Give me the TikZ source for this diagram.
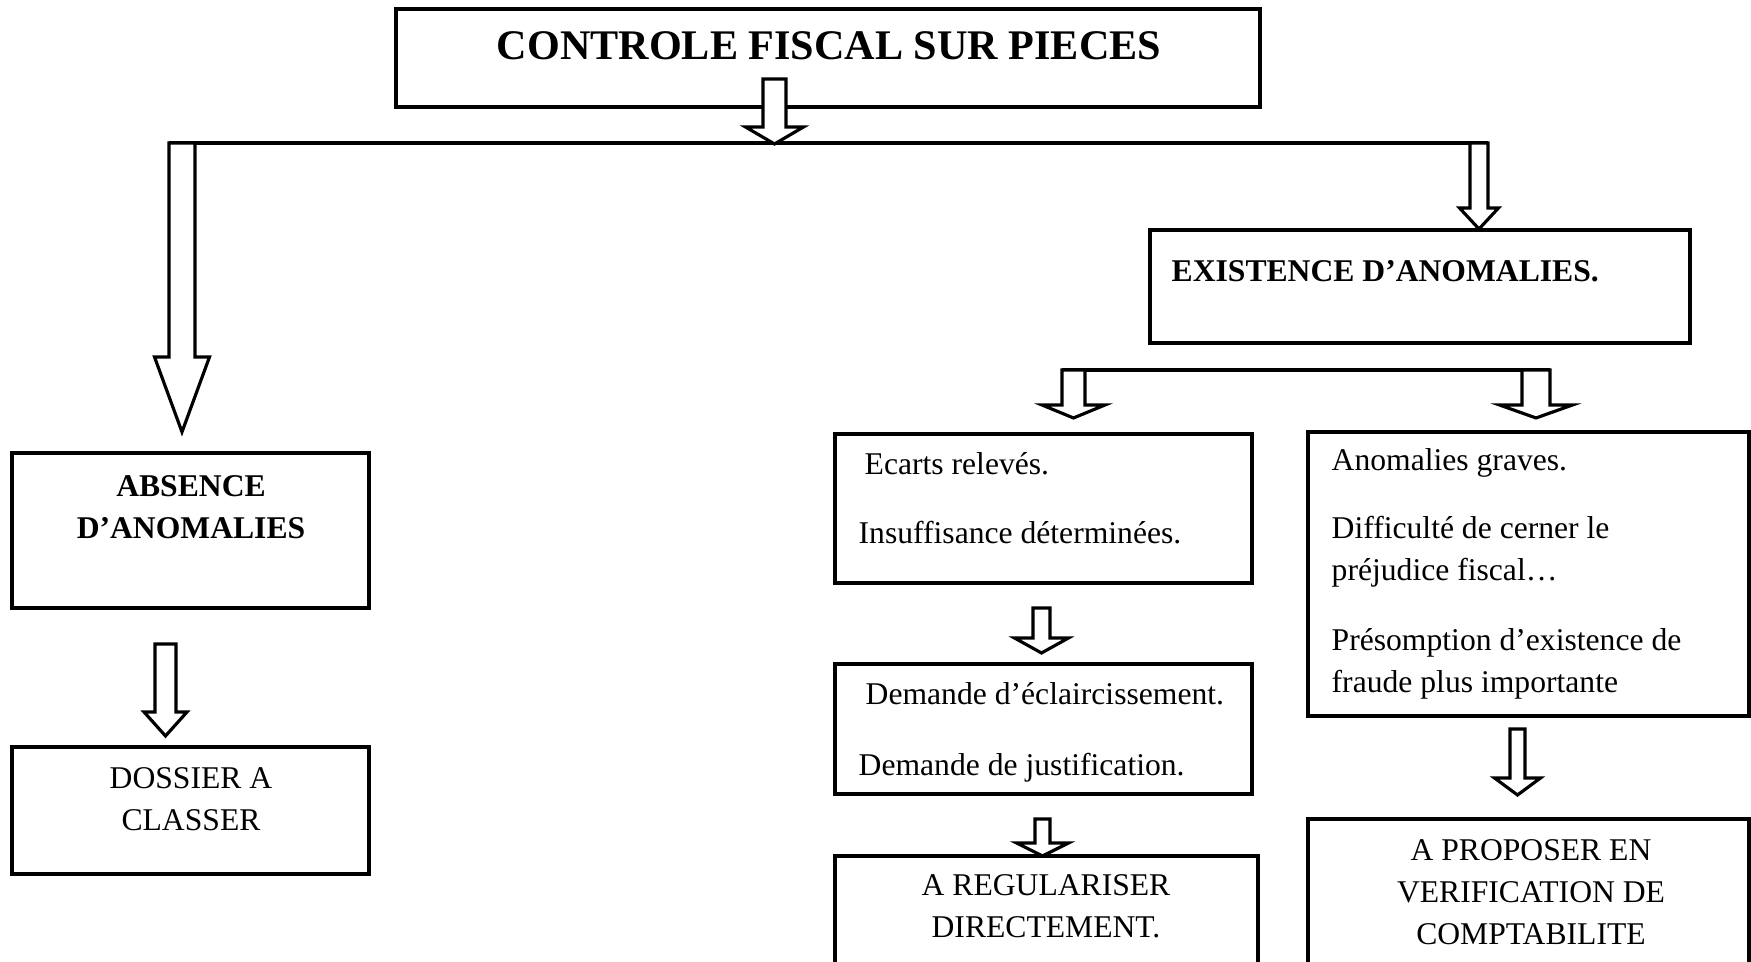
\documentclass[tikz,border=0pt]{standalone}
\usepackage{fontspec}
\setmainfont{Liberation Serif}
\usepackage{tikz}
\usetikzlibrary{calc}

\begin{document}
\begin{tikzpicture}[
  x=1cm,y=1cm,
  box/.style={rectangle,draw,line width=1.1pt,inner sep=0pt},
  hollow/.style={draw,fill=white,line width=0.9pt,line join=miter},
  bar/.style={line width=1pt},
  txt/.style={inner sep=0pt,font=\fontsize{9}{11.95}\selectfont},
  txtb/.style={inner sep=0pt,font=\fontsize{9}{11.95}\selectfont\bfseries}
]
  \useasboundingbox (0,0) rectangle (17.51,9.62);
  \fill[white] (0,0) rectangle (17.51,9.62);
  \clip (0,0) rectangle (17.51,9.62);

  % boxes
  \node[box,minimum width=8.64cm,minimum height=0.98cm] (titre) at (8.28,9.04) {};
  \node[box,minimum width=5.40cm,minimum height=1.13cm] (existence) at (14.20,6.755) {};
  \node[box,minimum width=3.57cm,minimum height=1.55cm] (absence) at (1.905,4.315) {};
  \node[box,minimum width=3.57cm,minimum height=1.27cm] (dossier) at (1.905,1.515) {};
  \node[box,minimum width=4.17cm,minimum height=1.49cm] (ecarts) at (10.435,4.535) {};
  \node[box,minimum width=4.17cm,minimum height=1.30cm] (demande) at (10.435,2.33) {};
  \node[box,minimum width=4.23cm,minimum height=1.56cm] (regul) at (10.465,0.28) {};
  \node[box,minimum width=4.41cm,minimum height=2.84cm] (graves) at (15.285,3.88) {};
  \node[box,minimum width=4.41cm,minimum height=1.93cm] (proposer) at (15.285,0.465) {};

  % texts (base = last line)
  \node[inner sep=0pt,anchor=base,font=\fontsize{12}{14}\selectfont\bfseries]
    (titreT) at (8.29,9.02) {CONTROLE FISCAL SUR PIECES};
  \node[txtb,anchor=base west] (existenceT) at (11.71,6.80) {EXISTENCE D’ANOMALIES.};
  \node[txtb,anchor=base,align=center] (absenceT) at (1.91,4.23) {ABSENCE\\D’ANOMALIES};
  \node[txt,anchor=base,align=center] (dossierT) at (1.91,1.31) {DOSSIER A\\CLASSER};
  \node[txt,anchor=base west] (ecartsA) at (8.64,4.87) {Ecarts relevés.};
  \node[txt,anchor=base west] (ecartsB) at (8.58,4.18) {Insuffisance déterminées.};
  \node[txt,anchor=base west] (demandeA) at (8.65,2.57) {Demande d’éclaircissement.};
  \node[txt,anchor=base west] (demandeB) at (8.58,1.86) {Demande de justification.};
  \node[txt,anchor=base,align=center] (regulT) at (10.46,0.24) {A REGULARISER\\DIRECTEMENT.};
  \node[txt,anchor=base west] (gravesA) at (13.31,4.91) {Anomalies graves.};
  \node[txt,anchor=base west,align=left] (gravesB) at (13.31,3.81)
    {Difficulté de cerner le\\préjudice fiscal…};
  \node[txt,anchor=base west,align=left] (gravesC) at (13.31,2.69)
    {Présomption d’existence de\\fraude plus importante};
  \node[txt,anchor=base,align=center] (proposerT) at (15.31,0.17)
    {A PROPOSER EN\\VERIFICATION DE\\COMPTABILITE};

  % branching bars
  \coordinate (barAw) at (1.69,8.19);
  \coordinate (barAe) at (14.88,8.19);
  \coordinate (barBw) at (10.62,5.92);
  \coordinate (barBe) at (15.50,5.92);
  \draw[bar] (barAw) -- (barAe);
  \draw[bar] (barBw) -- (barBe);

  % hollow arrows: x / half shaft / top / head base / half head / tip
  \foreach \x/\s/\t/\b/\h/\p in {7.745/.115/8.83/8.35/.29/8.18,
      1.82/.13/8.19/6.05/.275/5.30, 14.79/.09/8.19/7.54/.195/7.33,
      10.735/.115/5.92/5.57/.315/5.44, 15.36/.14/5.92/5.57/.365/5.44,
      10.415/.085/3.54/3.24/.27/3.09, 10.425/.075/1.43/1.19/.26/1.06,
      15.175/.075/2.33/1.84/.23/1.67, 1.655/.105/3.18/2.50/.215/2.26}
    \draw[hollow] ({\x-\s},\t) -- ({\x-\s},\b) -- ({\x-\h},\b) -- (\x,\p)
      -- ({\x+\h},\b) -- ({\x+\s},\b) -- ({\x+\s},\t) -- cycle;
\end{tikzpicture}
\end{document}
